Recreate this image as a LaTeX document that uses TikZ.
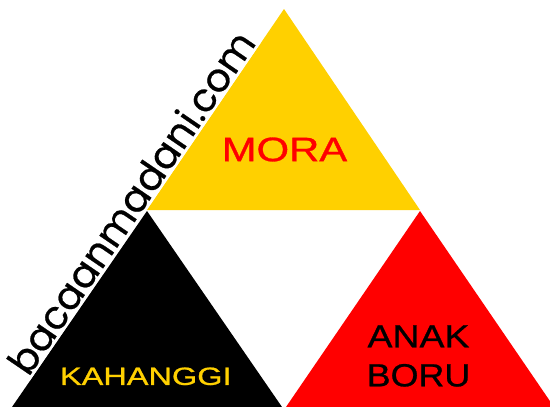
\documentclass[tikz,border=0pt]{standalone}
\usepackage{fontspec}
\setmainfont{Liberation Sans}
\newfontfamily\labfont[FakeBold=0.8]{Liberation Sans}
\newfontfamily\wmfont[FakeBold=0.6]{Poppins}
\usepackage{graphicx}
\usetikzlibrary{calc}
\definecolor{tyellow}{RGB}{255,208,0}
\definecolor{tred}{RGB}{255,0,0}
\begin{document}
\begin{tikzpicture}[x=1pt,y=-1pt,
  lab/.style={inner sep=0pt,align=center}]
\useasboundingbox (0,0) rectangle (550,407);
\clip (0,0) rectangle (550,407);
% triangles
\fill[tyellow] (284,9) coordinate (ya) -- (420,210) coordinate (yr) -- (147,210) coordinate (yl) -- cycle;
\fill[black] (147,211) coordinate (ba) -- (282,407) coordinate (br) -- (12,407) coordinate (bl) -- cycle;
\fill[tred] (420,211) coordinate (ra) -- (554,407) coordinate (rr) -- (286,407) coordinate (rl) -- cycle;
% watermark
\node[fill=white,inner sep=2.5pt,anchor=south,rotate=55.65] (wm) at ($(bl)!0.49!(ya)$) {\resizebox{405pt}{!}{\wmfont bacaanmadani.com}};
% labels
\node[lab,text=tred,font=\labfont\fontsize{34}{36}\selectfont] (mora) at (284.5,149.5) {\scalebox{1.23}[1]{MORA}};
\node[lab,text=tyellow,font=\labfont\fontsize{25}{27}\selectfont] (kah) at (145.8,376.3) {\scalebox{1.3}[1]{KAHANGGI}};
\node[lab,text=black,font=\labfont\fontsize{32}{39}\selectfont] (anak) at (418.5,356) {\scalebox{1.17}[1]{ANAK}\\\scalebox{1.12}[1]{BORU}};
\end{tikzpicture}
\end{document}
